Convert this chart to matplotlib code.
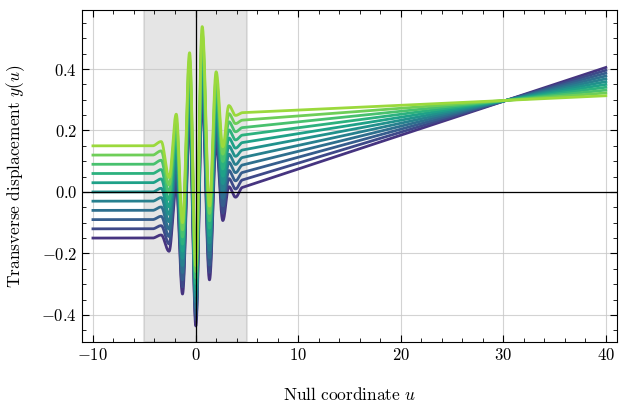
import numpy as np
import matplotlib
matplotlib.use("Agg")
import matplotlib.pyplot as plt
from matplotlib.ticker import MultipleLocator, FuncFormatter

# ---- data ----
# initial transverse offsets of the 11 geodesics
offsets = [-0.15, -0.12, -0.09, -0.06, -0.03, 0.0, 0.03, 0.06, 0.09, 0.12, 0.15]
# extrema / knots of the curves (u positions)
u_knots = [-10.0, -4.2, -3.35, -2.58, -1.88, -1.27, -0.58, 0.03, 0.65, 1.36, 2.01, 2.66, 3.25, 3.9, 4.6, 40.0]
# values of the top geodesic (offset +0.15) at the knots
top_vals = [0.15, 0.15, 0.164, 0.047, 0.253, -0.100, 0.453, -0.240, 0.538, -0.046, 0.391, 0.147, 0.281, 0.249, 0.258, 0.313]
# values of the bottom geodesic (offset -0.15) at the knots
bot_vals = [-0.15, -0.15, -0.140, -0.193, 0.019, -0.332, 0.228, -0.436, 0.298, -0.286, 0.156, -0.093, 0.017, -0.017, 0.015, 0.405]
# shaded wave-burst window
burst_window = [-5.0, 5.0]
x_ticks = [-10, 0, 10, 20, 30, 40]
y_ticks = [-0.4, -0.2, 0.0, 0.2, 0.4]


def smooth_through(u, uk, vk):
    """Draw a smooth curve through extrema knots (half-cosine between
    extrema), straight segment for the last (free drift) interval."""
    uk = np.asarray(uk); vk = np.asarray(vk)
    out = np.empty_like(u)
    n = len(uk)
    for i in range(n - 1):
        m = (u >= uk[i]) & (u <= uk[i + 1])
        t = (u[m] - uk[i]) / (uk[i + 1] - uk[i])
        if i == n - 2:
            w = t
        else:
            w = (1 - np.cos(np.pi * t)) / 2
        out[m] = vk[i] + (vk[i + 1] - vk[i]) * w
    return out


plt.rcParams.update({
    "mathtext.fontset": "cm",
    "font.family": "serif",
    "font.serif": ["DejaVu Serif"],
    "axes.linewidth": 0.8,
})

fig = plt.figure(figsize=(6.21, 4.11), dpi=100)
ax = fig.add_axes([0.132, 0.168, 0.8616, 0.8077])

u = np.linspace(u_knots[0], u_knots[-1], 6000)
top_curve = smooth_through(u, u_knots, top_vals)
bot_curve = smooth_through(u, u_knots, bot_vals)

ax.axvspan(burst_window[0], burst_window[1], color="grey", alpha=0.2, lw=1.5, zorder=0)

cols = plt.cm.viridis(np.linspace(0.15, 0.85, len(offsets)))
for y0, c in zip(offsets, cols):
    frac = (y0 - offsets[0]) / (offsets[-1] - offsets[0])
    y = bot_curve + frac * (top_curve - bot_curve)
    ax.plot(u, y, color=c, lw=2.0, zorder=2)

ax.axhline(0, color="black", lw=0.9, zorder=3)
ax.axvline(0, color="black", lw=0.9, zorder=3)

ax.set_xlim(-11.07, 41.09)
ax.set_ylim(-0.488, 0.592)
ax.set_xticks(x_ticks)
ax.set_yticks(y_ticks)
ax.xaxis.set_minor_locator(MultipleLocator(2))
ax.yaxis.set_minor_locator(MultipleLocator(0.05))
ax.xaxis.set_major_formatter(FuncFormatter(lambda v, p: f"${v:.0f}$"))
ax.yaxis.set_major_formatter(FuncFormatter(lambda v, p: f"${v:.1f}$"))
ax.tick_params(which="both", direction="in", top=True, right=True, labelsize=12)
ax.tick_params(which="major", length=5, width=0.8)
ax.tick_params(which="minor", length=2.8, width=0.6)
ax.grid(True, which="major", color="#c8c8c8", lw=0.8, alpha=0.8)
ax.set_axisbelow(True)

ax.set_xlabel(r"$\mathrm{Null\ coordinate}\ u$", fontsize=12.5, labelpad=17)
ax.set_ylabel(r"$\mathrm{Transverse\ displacement}\ y(u)$", fontsize=12.5, labelpad=10)

fig.savefig("out.png", dpi=100)
